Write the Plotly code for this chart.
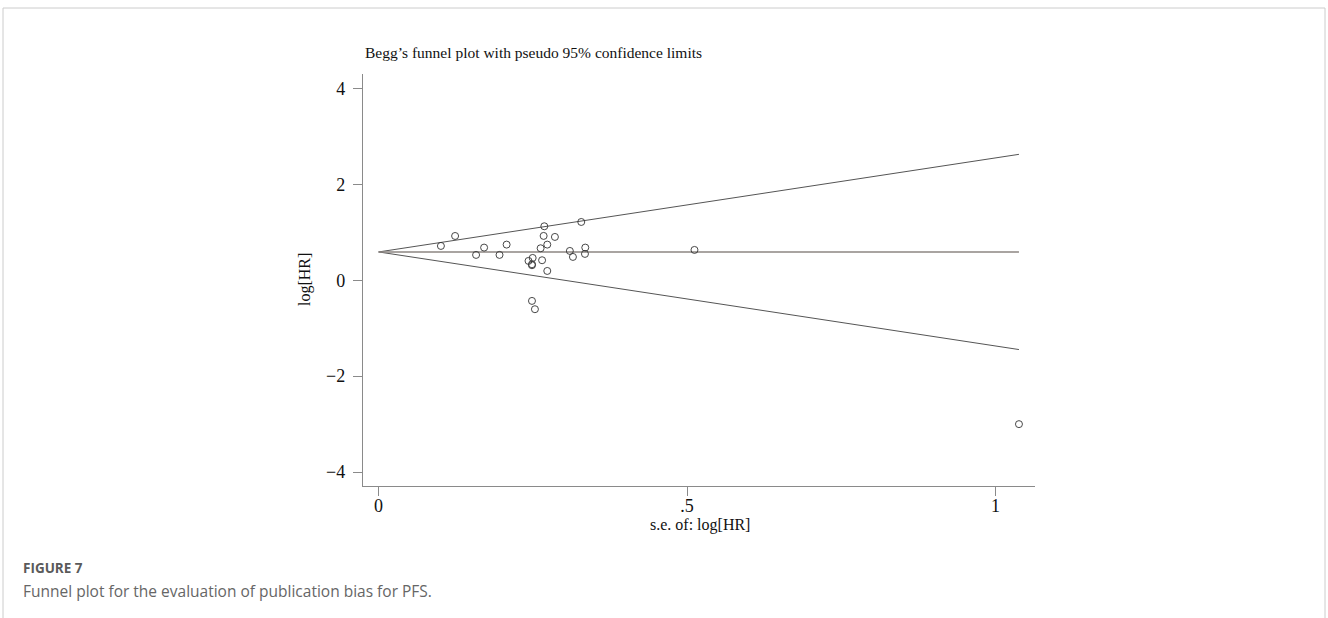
import plotly.graph_objects as go

# Study-level data
se_logHR = [0.101, 0.124, 0.158, 0.171, 0.196, 0.2075, 0.243, 0.2497, 0.2486, 0.2486,
            0.2626, 0.265, 0.2675, 0.2686, 0.2734, 0.2734, 0.2858, 0.310, 0.315, 0.3285,
            0.335, 0.3345, 0.512, 0.2486, 0.2534, 1.038]
logHR = [0.715, 0.923, 0.528, 0.681, 0.528, 0.743, 0.403, 0.465, 0.333, 0.313,
         0.667, 0.417, 0.924, 1.125, 0.743, 0.194, 0.903, 0.611, 0.486, 1.215,
         0.681, 0.549, 0.632, -0.431, -0.604, -3.0]

# Pooled estimate and pseudo 95% limits (line endpoints)
limit_se = [0.0, 1.038]
pooled = [0.59, 0.59]
upper_limit = [0.59, 2.625]
lower_limit = [0.59, -1.445]

x_tickvals = [0, 0.5, 1]
x_ticktext = ["0", ".5", "1"]
y_tickvals = [-4, -2, 0, 2, 4]
y_ticktext = ["\u22124", "\u22122", "0", "2", "4"]

W, H = 1328, 618
L, R, T, B = 363, 293, 74, 132
pw, ph = W - L - R, H - T - B

def px(x):
    return (x - L) / pw

def py(y):
    return (H - B - y) / ph

serif = "Liberation Serif"

fig = go.Figure()
fig.add_trace(go.Scatter(x=limit_se, y=upper_limit, mode="lines",
                         line=dict(color="#555555", width=1), hoverinfo="skip"))
fig.add_trace(go.Scatter(x=limit_se, y=lower_limit, mode="lines",
                         line=dict(color="#555555", width=1), hoverinfo="skip"))
fig.add_trace(go.Scatter(x=limit_se, y=pooled, mode="lines",
                         line=dict(color="#8c8682", width=1.6), hoverinfo="skip"))
fig.add_trace(go.Scatter(x=se_logHR, y=logHR, mode="markers",
                         marker=dict(symbol="circle-open", size=7,
                                     color="#333333", line=dict(width=0.9, color="#333333"))))

fig.update_layout(
    width=W, height=H,
    margin=dict(l=L, r=R, t=T, b=B),
    paper_bgcolor="white", plot_bgcolor="white",
    showlegend=False,
    font=dict(family=serif, size=16, color="#111111"),
    xaxis=dict(range=[-0.0253, 1.064], showgrid=False, zeroline=False,
               showline=True, linecolor="#8a8a8a", linewidth=1.3,
               ticks="outside", ticklen=9, tickcolor="#8a8a8a", tickwidth=1.2,
               tickvals=x_tickvals, ticktext=x_ticktext,
               ticklabelstandoff=-6,
               tickfont=dict(family=serif, size=18, color="#111111")),
    yaxis=dict(range=[-4.29, 4.3], showgrid=False, zeroline=False,
               showline=True, linecolor="#8a8a8a", linewidth=1.3,
               ticks="outside", ticklen=9, tickcolor="#8a8a8a", tickwidth=1.2,
               tickvals=y_tickvals, ticktext=y_ticktext,
               ticklabelstandoff=4,
               tickfont=dict(family=serif, size=18, color="#111111")),
)

annotations = [
    dict(text="Begg\u2019s funnel plot with pseudo 95% confidence limits",
         x=px(363), y=py(53), xanchor="left", yanchor="middle",
         font=dict(family=serif, size=15.5, color="#111111")),
    dict(text="s.e. of: log[HR]", x=px(700), y=py(525), xanchor="center", yanchor="middle",
         font=dict(family=serif, size=16, color="#111111")),
    dict(text="log[HR]", x=px(305), y=py(280), xanchor="center", yanchor="middle",
         textangle=-90, font=dict(family=serif, size=16, color="#111111")),
    dict(text="<b>FIGURE 7</b>", x=px(21), y=py(568), xanchor="left", yanchor="middle",
         font=dict(family="Open Sans", size=13.5, color="#5a5a5a")),
    dict(text="Funnel plot for the evaluation of publication bias for PFS.",
         x=px(21), y=py(591), xanchor="left", yanchor="middle",
         font=dict(family="Open Sans", size=15.5, color="#666666")),
]
for a in annotations:
    a.update(xref="paper", yref="paper", showarrow=False)
fig.update_layout(annotations=annotations)

fig.add_shape(type="rect", xref="paper", yref="paper",
              x0=px(3), x1=px(1325), y0=py(640), y1=py(8),
              line=dict(color="#cccccc", width=1), fillcolor="rgba(0,0,0,0)", layer="below")

fig.write_html("out.html")
